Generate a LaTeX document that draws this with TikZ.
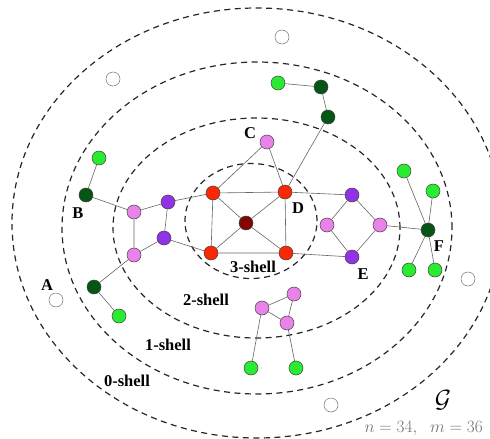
\documentclass[tikz,border=0pt]{standalone}
\usepackage{fontspec}
\newfontfamily\labfont{Liberation Serif}
\definecolor{cred}{RGB}{250,40,5}
\definecolor{cdred}{RGB}{130,5,5}
\definecolor{cpurple}{RGB}{145,50,230}
\definecolor{cpink}{RGB}{235,130,235}
\definecolor{cgreen}{RGB}{40,235,50}
\definecolor{cdgreen}{RGB}{5,85,20}
\tikzset{
  v/.style={circle, draw=black!75, line width=0.5pt, minimum size=14pt, inner sep=0pt},
  wn/.style={v, draw=black!55, fill=white},
  gn/.style={v, fill=cgreen},
  dn/.style={v, fill=cdgreen},
  pn/.style={v, fill=cpink},
  un/.style={v, fill=cpurple},
  rn/.style={v, fill=cred},
  cn/.style={v, fill=cdred},
  edge/.style={draw=black!60, line width=0.6pt},
  shell/.style={draw=black!85, line width=1.2pt, dash pattern=on 6pt off 4.5pt},
  lab/.style={font=\labfont\bfseries\fontsize{16.5}{18}\selectfont, inner sep=0pt}
}
\begin{document}
\begin{tikzpicture}[x=1pt,y=-1pt]
\useasboundingbox (0,0) rectangle (490,439);
\clip (0,0) rectangle (490,439);
% shells
\draw[shell] (257,223) ellipse [x radius=245pt, y radius=215pt];
\draw[shell] (257,228) ellipse [x radius=195pt, y radius=166pt];
\draw[shell] (256.5,228) ellipse [x radius=143.5pt, y radius=110pt];
\draw[shell] (251,221) ellipse [x radius=66pt, y radius=57.5pt];
% white nodes
\node[wn] (w1) at (113,79) {};
\node[wn] (w2) at (282,37) {};
\node[wn] (w3) at (56,300) {};
\node[wn] (w4) at (468,279) {};
\node[wn] (w5) at (331,405) {};
% green
\node[gn] (g1) at (99,158) {};
\node[gn] (g2) at (119,316) {};
\node[gn] (g3) at (278,83) {};
\node[gn] (gF1) at (404,171) {};
\node[gn] (gF2) at (433,191) {};
\node[gn] (gF3) at (409,270) {};
\node[gn] (gF4) at (435,270) {};
\node[gn] (g4) at (251,368) {};
\node[gn] (g5) at (296,368) {};
% dark green
\node[dn] (dB) at (86,195) {};
\node[dn] (d2) at (94,287) {};
\node[dn] (d3) at (321,87) {};
\node[dn] (d4) at (328,117) {};
\node[dn] (dF) at (428,230) {};
% pink
\node[pn] (p1) at (134,212) {};
\node[pn] (p2) at (134,255) {};
\node[pn] (pC) at (267,142) {};
\node[pn] (pL) at (327,225) {};
\node[pn] (pR) at (380,225) {};
\node[pn] (q1) at (262,308) {};
\node[pn] (q2) at (294,294) {};
\node[pn] (q3) at (287,323) {};
% purple
\node[un] (u1) at (168,202) {};
\node[un] (u2) at (164,238) {};
\node[un] (uT) at (352,195) {};
\node[un] (uB) at (352,257) {};
% red
\node[rn] (rTL) at (213,193) {};
\node[rn] (rTR) at (285,192) {};
\node[rn] (rBL) at (211,253) {};
\node[rn] (rBR) at (286,253) {};
\node[cn] (c) at (246,223) {};
% edges
\path[edge]
  (g1) -- (dB) (dB) -- (p1) (p1) -- (u1) (p1) -- (p2) (u1) -- (u2) (u2) -- (p2)
  (u1) -- (rTL) (u2) -- (rBL) (p2) -- (d2) (d2) -- (g2)
  (rTL) -- (rTR) (rTL) -- (rBL) (rTL) -- (c) (rTL) -- (pC) (pC) -- (rTR)
  (rTR) -- (c) (rTR) -- (rBR) (rTR) -- (d4) (rTR) -- (uT)
  (rBL) -- (c) (rBL) -- (rBR) (rBR) -- (c) (rBR) -- (uB)
  (uT) -- (pL) (uT) -- (pR) (uB) -- (pL) (uB) -- (pR) (pR) -- (dF)
  (dF) -- (gF1) (dF) -- (gF2) (dF) -- (gF3) (dF) -- (gF4)
  (d3) -- (g3) (d3) -- (d4)
  (q1) -- (q2) (q1) -- (q3) (q2) -- (q3) (q1) -- (g4) (q3) -- (g5);
% labels
\node[lab] (lA) at (47,285) {A};
\node[lab] (lB) at (78,213) {B};
\node[lab] (lC) at (250,133) {C};
\node[lab] (lD) at (298,208) {D};
\node[lab] (lE) at (363,274) {E};
\node[lab] (lF) at (439,246) {F};
\node[lab] (s0) at (127,381) {0-shell};
\node[lab] (s1) at (168,345) {1-shell};
\node[lab] (s2) at (206,300) {2-shell};
\node[lab] (s3) at (253,267) {3-shell};
\node[inner sep=0pt] (lG) at (443,400) {\fontsize{27}{30}\selectfont$\mathcal{G}$};
\node[inner sep=0pt, text=black!55, anchor=east] (lnm) at (483,429) {\fontsize{16.5}{18}\selectfont$n=34,\ \ m=36$};
\end{tikzpicture}
\end{document}
